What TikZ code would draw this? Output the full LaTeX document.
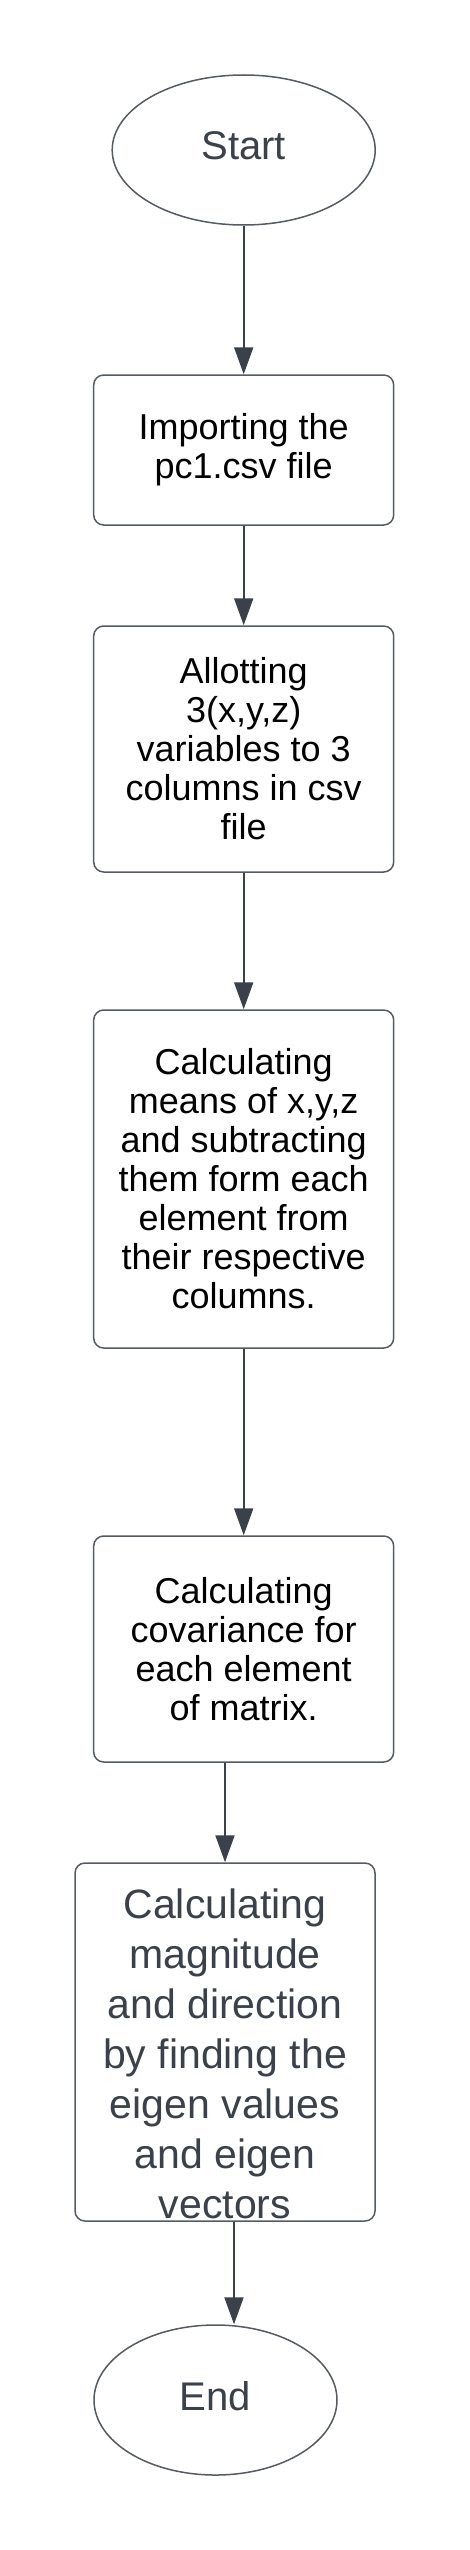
\documentclass[tikz,border=0pt]{standalone}
\usepackage{fontspec}
\setmainfont{Liberation Sans}
\usetikzlibrary{shapes.geometric,arrows.meta}
\definecolor{ink}{HTML}{3A414A}
\definecolor{edgegray}{HTML}{555B63}
\begin{document}
\begin{tikzpicture}[x=1pt,y=-1pt,
  boxstyle/.style={draw=edgegray,line width=1.5pt,rounded corners=10pt,minimum width=300pt,inner sep=0pt,align=center,text=black,font=\fontsize{36}{39}\selectfont},
  term/.style={ellipse,draw=edgegray,line width=1.5pt,inner sep=0pt,text=ink,text height=29pt,text depth=9pt,font=\fontsize{40}{48}\selectfont},
  bigtext/.style={align=center,text=ink,inner sep=0pt,font=\fontsize{41}{50}\selectfont},
  flow/.style={draw=ink,line width=2pt,-{Triangle[width=19pt,length=27pt]}}]
\useasboundingbox[fill=white] (0,0) rectangle (469,2550);

\node[term,minimum width=263pt,minimum height=150pt] (start) at (243.7,150) {Start};

\node[boxstyle,minimum height=150pt] (b1) at (243.7,450) {Importing the\\pc1.csv file};

\node[boxstyle,minimum height=246pt] (b2) at (243.7,749) {Allotting\\3(x,y,z)\\variables to 3\\columns in csv\\file};

\node[boxstyle,minimum height=338pt] (b3) at (243.7,1179) {Calculating\\means of x,y,z\\and subtracting\\them form each\\element from\\their respective\\columns.};

\node[boxstyle,minimum height=226pt] (b4) at (243.7,1649) {Calculating\\covariance for\\each element\\of matrix.};

\node[boxstyle,minimum height=358pt] (b5) at (225,2042) {};
\node[bigtext] (b5t) at (225,2053.5) {Calculating\\magnitude\\and direction\\by finding the\\eigen values\\and eigen\\vectors};

\node[term,minimum width=243pt,minimum height=150pt] (end) at (215.5,2400) {End};

\draw[flow] (start.south) -- (b1.north);
\draw[flow] (b1.south) -- (b2.north);
\draw[flow] (b2.south) -- (b3.north);
\draw[flow] (b3.south) -- (b4.north);
\draw[flow] (b5.north |- b4.south) -- (b5.north);
\draw[flow] ([xshift=9pt]b5.south) -- ([xshift=9pt]b5.south |- end.north);
\end{tikzpicture}
\end{document}
